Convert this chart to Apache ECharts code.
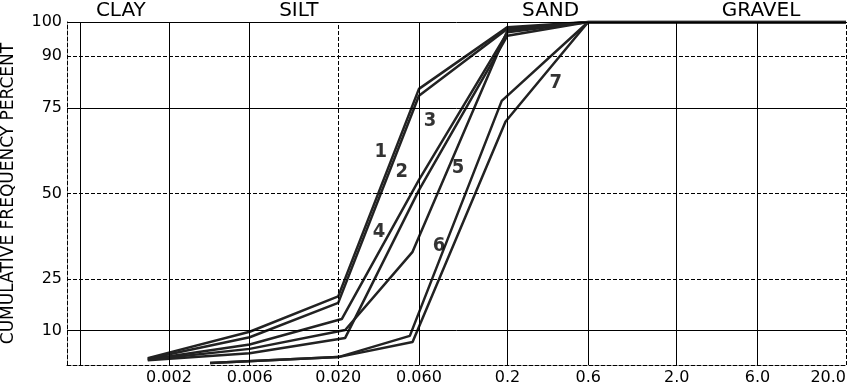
<!DOCTYPE html>
<html><head><meta charset="utf-8">
<script src="https://cdn.jsdelivr.net/npm/echarts@6/dist/echarts.min.js"></script>
<style>html,body{margin:0;padding:0;background:#fff}#c{width:847px;height:386px}</style>
</head><body><div id="c"></div>
<script>
// ---- axis ticks / labels ----
const xTickValues = [0.002, 0.006, 0.02, 0.06, 0.2, 0.6, 2, 6, 20];
const xTickText   = ['0.002', '0.006', '0.020', '0.060', '0.2', '0.6', '2.0', '6.0', '20.0'];
const yTickValues = [10, 25, 50, 75, 90, 100];
const xGridSolid  = [0.0006, 0.002, 0.006, 0.06, 0.2, 0.6, 2, 6];
const xGridDashed = [0.02, 20];
const yGridSolid  = [10, 75, 100];
const yGridDashed = [25, 50, 90];
const zoneNames   = ['CLAY', 'SILT', 'SAND', 'GRAVEL'];
const zoneCenters = [0.00104, 0.0117, 0.36, 6.3];

// ---- curves (grain size mm, cumulative %) ----
const size1 = [0.0015, 0.006, 0.02, 0.06, 0.2, 0.6, 20];
const pct1  = [2.0, 9.7, 20.0, 80.5, 98.5, 100, 100];
const size2 = [0.0015, 0.006, 0.02, 0.06, 0.2, 0.6, 20];
const pct2  = [1.8, 8.1, 18.1, 78.5, 98.0, 100, 100];
const size3 = [0.0015, 0.006, 0.021, 0.06, 0.2, 0.6, 20];
const pct3  = [1.6, 6.0, 13.4, 54, 97, 100, 100];
const size4 = [0.0015, 0.006, 0.022, 0.06, 0.2, 0.6, 20];
const pct4  = [1.4, 3.4, 7.9, 51, 96, 100, 100];
const size5 = [0.0015, 0.006, 0.022, 0.055, 0.2, 0.6, 20];
const pct5  = [1.5, 4.7, 10.2, 33, 97.5, 100, 100];
const size6 = [0.0035, 0.02, 0.053, 0.185, 0.6, 20];
const pct6  = [0.6, 2.3, 8.5, 77, 100, 100];
const size7 = [0.0035, 0.02, 0.055, 0.195, 0.6, 20];
const pct7  = [0.6, 2.3, 6.7, 71, 100, 100];

const curveNames = ['1', '2', '3', '4', '5', '6', '7'];
const labelSize  = [0.0357, 0.0475, 0.0697, 0.0348, 0.102, 0.0787, 0.386];
const labelPct   = [62.2, 56.3, 71.2, 38.8, 57.5, 34.7, 82.3];

const sizes = [size1, size2, size3, size4, size5, size6, size7];
const pcts  = [pct1, pct2, pct3, pct4, pct5, pct6, pct7];

const FONT = 'DejaVu Sans';
function lookup(vals, texts, v) {
  for (let i = 0; i < vals.length; i++) {
    if (Math.abs(Math.log10(v) - Math.log10(vals[i])) < 1e-6) return texts[i];
  }
  return '';
}

const chart = echarts.init(document.getElementById('c'), null, {renderer: 'canvas'});

const gridLines = [];
xGridSolid.forEach(v => gridLines.push({xAxis: v, lineStyle: {type: 'solid'}}));
xGridDashed.forEach(v => gridLines.push({xAxis: v, lineStyle: {type: [4, 2]}}));
yGridSolid.forEach(v => gridLines.push({yAxis: v, lineStyle: {type: 'solid'}}));
yGridDashed.forEach(v => gridLines.push({yAxis: v, lineStyle: {type: [4, 2]}}));

const series = [{
  type: 'line', data: [], silent: true, z: 1,
  markLine: {
    silent: true, symbol: ['none', 'none'], animation: false, precision: 10,
    label: {show: false},
    lineStyle: {color: '#000', width: 1},
    data: gridLines
  }
}];
sizes.forEach((s, i) => {
  series.push({
    type: 'line', name: curveNames[i], z: 3,
    data: s.map((x, j) => [x, pcts[i][j]]),
    symbol: 'none', smooth: false,
    lineStyle: {color: '#222', width: 2.5},
    animation: false
  });
});
series.push({
  type: 'scatter', z: 4, symbolSize: 0,
  data: curveNames.map((n, i) => ({name: n, value: [labelSize[i], labelPct[i]]})),
  label: {
    show: true, position: 'inside', formatter: p => p.name,
    fontFamily: 'DejaVu Sans Condensed', fontWeight: 'bold', fontSize: 20, color: '#000'
  },
  animation: false
});

chart.setOption({
  backgroundColor: '#fff',
  animation: false,
  grid: {left: 67, right: 1, top: 22, bottom: 21, containLabel: false, outerBoundsMode: 'none'},
  xAxis: [{
    type: 'log', logBase: 10, min: 0.0005, max: 20,
    axisLine: {show: true, lineStyle: {color: '#000', width: 1, type: [4, 2]}},
    axisTick: {show: false},
    splitLine: {show: false},
    axisLabel: {
      customValues: xTickValues,
      formatter: v => lookup(xTickValues, xTickText, v),
      fontFamily: FONT, fontSize: 16, color: '#000', margin: 5,
      alignMaxLabel: 'right'
    }
  }, {
    type: 'log', logBase: 10, min: 0.0005, max: 20, position: 'top',
    axisLine: {show: false}, axisTick: {show: false}, splitLine: {show: false},
    axisLabel: {
      customValues: zoneCenters,
      formatter: v => lookup(zoneCenters, zoneNames, v),
      fontFamily: FONT, fontSize: 20, color: '#000', margin: 1
    }
  }],
  yAxis: {
    type: 'value', min: 0, max: 100,
    name: 'CUMULATIVE FREQUENCY PERCENT', nameLocation: 'middle', nameRotate: 90, nameGap: 50,
    nameTextStyle: {fontFamily: FONT, fontSize: 17, color: '#000'},
    axisLine: {show: true, lineStyle: {color: '#000', width: 1, type: [4, 2]}},
    axisTick: {show: false},
    splitLine: {show: false},
    axisLabel: {
      customValues: yTickValues,
      fontFamily: FONT, fontSize: 16, color: '#000', margin: 5
    }
  },
  series: series
});
</script></body></html>
